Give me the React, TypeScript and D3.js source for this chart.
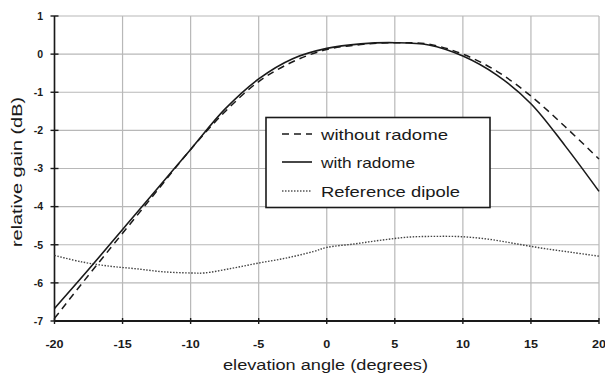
import React from "react";
import * as d3 from "d3";

const xTicks = [-20, -15, -10, -5, 0, 5, 10, 15, 20];
const yTicks = [-7, -6, -5, -4, -3, -2, -1, 0, 1];

const angles = [-20, -17.5, -15, -12.5, -10, -7.5, -5, -2.5, 0, 2.5, 5, 7.5, 10, 12.5, 15, 17.5, 20];
const withRadome = [-6.67, -5.65, -4.6, -3.55, -2.5, -1.45, -0.65, -0.12, 0.15, 0.27, 0.3, 0.24, -0.05, -0.55, -1.3, -2.4, -3.6];
const withoutRadome = [-6.93, -5.8, -4.7, -3.6, -2.5, -1.52, -0.72, -0.2, 0.12, 0.25, 0.3, 0.26, 0.0, -0.45, -1.1, -1.9, -2.75];

const dipoleAngles = [-20, -18, -16, -14, -12, -10, -9, -7, -5, -3, -1, 0, 2, 4, 6, 8, 10, 12, 14, 16, 18, 20];
const dipole = [-5.28, -5.45, -5.56, -5.63, -5.71, -5.74, -5.74, -5.62, -5.48, -5.35, -5.18, -5.07, -4.98, -4.88, -4.8, -4.78, -4.79, -4.86, -4.98, -5.1, -5.2, -5.3];

const legendLabels = ["without radome", "with radome", "Reference dipole"];

export default function App() {
  const W = 605, H = 376;
  const x = d3.scaleLinear().domain([-20, 20]).range([54.5, 599]);
  const y = d3.scaleLinear().domain([-7, 1]).range([321, 16]);
  const line = d3.line<[number, number]>().x(d => x(d[0])).y(d => y(d[1])).curve(d3.curveCatmullRom.alpha(0.5));
  const solid = line(angles.map((a, i) => [a, withRadome[i]]))!;
  const dashed = line(angles.map((a, i) => [a, withoutRadome[i]]))!;
  const dotted = line(dipoleAngles.map((a, i) => [a, dipole[i]]))!;
  const font = "'Liberation Sans', Arial, sans-serif";
  const ink = "#1a1a1a";
  const legendY = [134, 162, 191];
  const styles = [
    { dash: "7 5", w: 1.5 },
    { dash: "none", w: 1.6 },
    { dash: "1.5 1.5", w: 1.4 },
  ];
  return (
    <svg width={W} height={H} style={{ position: "absolute", left: 0, top: 0, background: "#fff" }} fontFamily={font}>
      <rect x={0} y={0} width={W} height={H} fill="#fff" />
      {xTicks.map(t => (
        <line key={"gx" + t} x1={x(t)} x2={x(t)} y1={y(1)} y2={y(-7)} stroke="#b8b8b8" strokeWidth={1.2} />
      ))}
      {yTicks.map(t => (
        <line key={"gy" + t} x1={x(-20)} x2={x(20)} y1={y(t)} y2={y(t)} stroke="#b8b8b8" strokeWidth={1.2} />
      ))}
      <line x1={x(-20)} x2={x(-20)} y1={y(1)} y2={y(-7)} stroke={ink} strokeWidth={1.6} />
      <line x1={x(-20)} x2={x(20)} y1={y(-7)} y2={y(-7)} stroke={ink} strokeWidth={1.8} />
      {yTicks.map(t => (
        <g key={"ty" + t}>
          <line x1={x(-20) - 4} x2={x(-20) + 4} y1={y(t)} y2={y(t)} stroke={ink} strokeWidth={1.4} />
          <text x={43} y={y(t) + 3.8} textAnchor="end" fontSize={10.5} fontWeight="bold" fill={ink}>{t}</text>
        </g>
      ))}
      {xTicks.map(t => (
        <g key={"tx" + t}>
          <line x1={x(t)} x2={x(t)} y1={y(-7) - 3} y2={y(-7) + 3} stroke={ink} strokeWidth={1.4} />
          <text transform={`translate(${x(t)},348) scale(1.2,1)`} textAnchor="middle" fontSize={10.5} fontWeight="bold" fill={ink}>{t}</text>
        </g>
      ))}
      <path d={dotted} fill="none" stroke="#444" strokeWidth={1.4} strokeDasharray="1.5 1.5" />
      <path d={dashed} fill="none" stroke={ink} strokeWidth={1.5} strokeDasharray="7 5" />
      <path d={solid} fill="none" stroke={ink} strokeWidth={1.6} />
      <rect x={266} y={117.5} width={224} height={90} fill="#fff" stroke={ink} strokeWidth={1.6} />
      {legendLabels.map((l, i) => (
        <g key={l}>
          <line x1={282} x2={312} y1={legendY[i]} y2={legendY[i]} stroke={i === 2 ? "#555" : ink}
            strokeWidth={styles[i].w} strokeDasharray={styles[i].dash} />
          <text x={321} y={legendY[i] + 5.5} fontSize={15} fill={ink}
            textLength={i === 0 ? 127 : i === 1 ? 94 : 139} lengthAdjust="spacingAndGlyphs">{l}</text>
        </g>
      ))}
      <text x={325.5} y={370} textAnchor="middle" fontSize={15.5} fill={ink} textLength={205} lengthAdjust="spacingAndGlyphs">elevation angle (degrees)</text>
      <text transform="translate(22,172) rotate(-90)" textAnchor="middle" fontSize={14.5} fill={ink} textLength={150} lengthAdjust="spacingAndGlyphs">relative gain (dB)</text>
    </svg>
  );
}
